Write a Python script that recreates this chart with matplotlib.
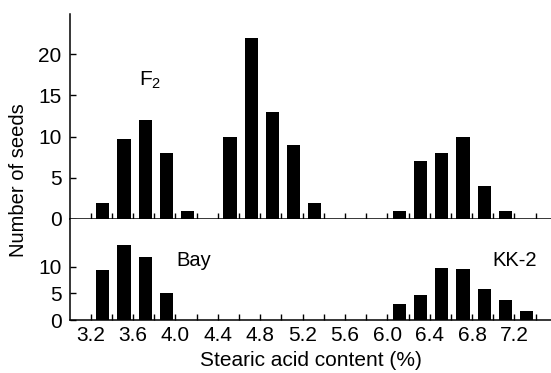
import matplotlib
matplotlib.use("Agg")
import matplotlib.pyplot as plt
import numpy as np

plt.rcParams['font.family'] = ['Liberation Sans', 'DejaVu Sans']
plt.rcParams['mathtext.default'] = 'regular'

# bin centres (%) and counts
f2_x = [3.3, 3.5, 3.7, 3.9, 4.1, 4.5, 4.7, 4.9, 5.1, 5.3, 6.1, 6.3, 6.5, 6.7, 6.9, 7.1]
f2_y = [2, 9.7, 12, 8, 1, 10, 22, 13, 9, 2, 1, 7, 8, 10, 4, 1]

bay_x = [3.3, 3.5, 3.7, 3.9]
bay_y = [9.3, 14, 11.8, 5]

kk2_x = [6.1, 6.3, 6.5, 6.7, 6.9, 7.1, 7.3]
kk2_y = [3, 4.7, 9.8, 9.6, 5.8, 3.8, 1.7]

xtick_labels = ['3.2', '3.6', '4.0', '4.4', '4.8', '5.2', '5.6', '6.0', '6.4', '6.8', '7.2']
top_yticks = [0, 5, 10, 15, 20]
bot_yticks = [0, 5, 10]

W, H = 551, 373
fig = plt.figure(figsize=(W / 100, H / 100), dpi=100)
left = 70 / W
ax1 = fig.add_axes([left, 1 - 219 / H, 1 - left, (219 - 14) / H])
ax2 = fig.add_axes([left, 1 - 320 / H, 1 - left, (320 - 219) / H])

bw = 0.125
off = 0.015
ax1.bar(np.array(f2_x) + off, f2_y, width=bw, color='black')
ax2.bar(np.array(bay_x) + off, bay_y, width=bw, color='black')
ax2.bar(np.array(kk2_x) + off, kk2_y, width=bw, color='black')

xmin, xmax = 3.005, 7.545
tick_pos = [round(3.2 + 0.2 * i, 1) for i in range(22)]
for ax in (ax1, ax2):
    ax.set_xlim(xmin, xmax)
    for s in ('top', 'right'):
        ax.spines[s].set_visible(False)
    for s in ('left', 'bottom'):
        ax.spines[s].set_linewidth(1.1)
    ax.set_xticks(tick_pos)
    ax.tick_params(axis='x', direction='in', length=4, width=1.0, labelsize=15, pad=4)
    ax.tick_params(axis='y', direction='in', length=4, width=1.0, labelsize=15, pad=6)

ax1.set_ylim(0, 24.85)
ax1.set_yticks(top_yticks)
ax1.set_xticklabels([])
ax2.set_ylim(0, 18.95)
ax2.set_yticks(bot_yticks)
ax2.set_xticklabels([s if s in xtick_labels else '' for s in [f"{p:.1f}" for p in tick_pos]])

ax1.text(3.76, 16.8, 'F$_2$', fontsize=15, ha='center', va='center')
ax2.text(4.175, 11.2, 'Bay', fontsize=14.5, ha='center', va='center')
ax2.text(7.2, 11.2, 'KK-2', fontsize=14.5, ha='center', va='center')

ax2.set_xlabel('Stearic acid content (%)', fontsize=15, labelpad=5)
fig.text(18.5 / W, 1 - 180 / H, 'Number of seeds', rotation=90, fontsize=14.5,
         ha='center', va='center')

fig.savefig('out.png', dpi=100)
